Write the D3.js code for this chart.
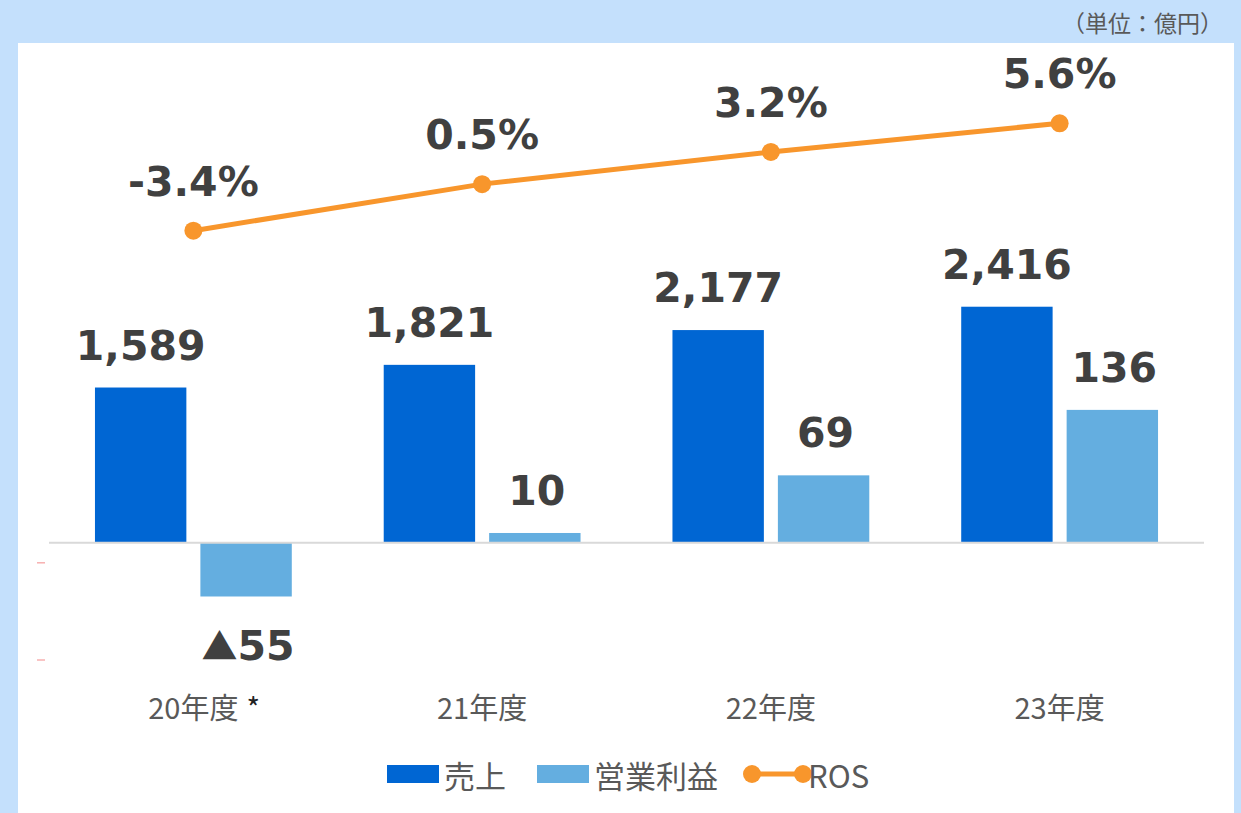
<!DOCTYPE html>
<html>
<head>
<meta charset="utf-8">
<script src="https://cdn.jsdelivr.net/npm/d3@7"></script>
<style>
  html, body { margin: 0; padding: 0; background: #c4e0fc; }
  svg { display: block; }
</style>
</head>
<body>
<script>
// chart data
const categories = ["20年度", "21年度", "22年度", "23年度"];
const categoryNotes = ["*", "", "", ""];
const seriesNames = ["売上", "営業利益"];
const sales = [1589, 1821, 2177, 2416];
const profit = [-55, 10, 69, 136];
const ros = [-3.4, 0.5, 3.2, 5.6];
const unitLabel = "（単位：億円）";

const width = 1241;
const height = 813;

const colors = {
  sales: "#0066d3",
  profit: "#64aee0",
  ros: "#f8962c",
  label: "#404040",
  text: "#595959",
};

const svg = d3
  .select("body")
  .append("svg")
  .attr("width", width)
  .attr("height", height);

// blue frame + white panel
svg.append("rect").attr("width", width).attr("height", height).attr("fill", "#c4e0fc");
svg
  .append("rect")
  .attr("x", 18)
  .attr("y", 43)
  .attr("width", 1216)
  .attr("height", height - 43)
  .attr("fill", "#ffffff");

svg
  .append("text")
  .attr("x", 1223)
  .attr("y", 32)
  .attr("text-anchor", "end")
  .attr("font-family", "'Noto Sans CJK JP', sans-serif")
  .attr("font-size", 23)
  .attr("fill", colors.text)
  .text(unitLabel);

const plot = { left: 49, right: 1204, top: 250, bottom: 660 };

const xScale = d3
  .scaleBand()
  .domain(categories)
  .range([plot.left, plot.right])
  .padding(0);

const xSub = d3
  .scaleBand()
  .domain(seriesNames)
  .range([0, xScale.bandwidth()])
  .paddingInner(0.133)
  .paddingOuter(0.436);

// sales axis (left), profit axis (secondary, 10x)
const ySales = d3.scaleLinear().domain([-1200, 3000]).range([plot.bottom, plot.bottom - 4200 * 0.0977]);
const yProfit = d3.scaleLinear().domain([-120, 300]).range(ySales.range());
const yRos = d3.scaleLinear().domain([-10, 10]).range([309.4, 70.8]);

const labelFont = "'DejaVu Sans', Verdana, sans-serif";

// faint red marks at left edge (as in the source)
svg
  .selectAll("line.redmark")
  .data([-205, -1200])
  .join("line")
  .attr("class", "redmark")
  .attr("x1", 37)
  .attr("x2", 45)
  .attr("y1", (d) => ySales(d))
  .attr("y2", (d) => ySales(d))
  .attr("stroke", "#f7b0b0")
  .attr("stroke-width", 1.5);

const groups = svg
  .selectAll("g.cat")
  .data(categories)
  .join("g")
  .attr("class", "cat")
  .attr("transform", (d) => `translate(${xScale(d)},0)`);

// sales bars
groups
  .append("rect")
  .attr("x", xSub("売上"))
  .attr("width", xSub.bandwidth())
  .attr("y", (d, i) => ySales(sales[i]))
  .attr("height", (d, i) => ySales(0) - ySales(sales[i]))
  .attr("fill", colors.sales);

// profit bars
groups
  .append("rect")
  .attr("x", xSub("営業利益"))
  .attr("width", xSub.bandwidth())
  .attr("y", (d, i) => yProfit(Math.max(0, profit[i])))
  .attr("height", (d, i) => Math.abs(yProfit(0) - yProfit(profit[i])))
  .attr("fill", colors.profit);

// zero line
svg
  .append("line")
  .attr("x1", plot.left)
  .attr("x2", plot.right)
  .attr("y1", ySales(0))
  .attr("y2", ySales(0))
  .attr("stroke", "#d9d9d9")
  .attr("stroke-width", 2);

// bar value labels
const fmt = d3.format(",");
groups
  .append("text")
  .attr("x", xSub("売上") + xSub.bandwidth() / 2)
  .attr("y", (d, i) => ySales(sales[i]) - 28)
  .attr("text-anchor", "middle")
  .attr("font-family", labelFont)
  .attr("font-weight", "bold")
  .attr("font-size", 41)
  .attr("fill", colors.label)
  .text((d, i) => fmt(sales[i]));

const profitLabels = groups
  .append("text")
  .attr("x", xSub("営業利益") + xSub.bandwidth() / 2 + 2)
  .attr("y", (d, i) => (profit[i] >= 0 ? yProfit(profit[i]) - 28 : yProfit(profit[i]) + 64))
  .attr("text-anchor", "middle")
  .attr("font-family", labelFont)
  .attr("font-weight", "bold")
  .attr("font-size", 41)
  .attr("fill", colors.label);

profitLabels.each(function (d, i) {
  const t = d3.select(this);
  if (profit[i] < 0) {
    t.append("tspan")
      .attr("font-family", "'Noto Sans CJK JP', sans-serif")
      .attr("font-size", 36)
      .attr("font-weight", "normal")
      .text("▲");
    t.append("tspan").text(fmt(-profit[i]));
  } else {
    t.text(fmt(profit[i]));
  }
});

// ROS line
const rosLine = d3
  .line()
  .x((d, i) => xScale(categories[i]) + xScale.bandwidth() / 2)
  .y((d) => yRos(d));

svg
  .append("path")
  .datum(ros)
  .attr("d", rosLine)
  .attr("fill", "none")
  .attr("stroke", colors.ros)
  .attr("stroke-width", 5);

svg
  .selectAll("circle.ros")
  .data(ros)
  .join("circle")
  .attr("class", "ros")
  .attr("cx", (d, i) => xScale(categories[i]) + xScale.bandwidth() / 2)
  .attr("cy", (d) => yRos(d))
  .attr("r", 9)
  .attr("fill", colors.ros);

svg
  .selectAll("text.ros")
  .data(ros)
  .join("text")
  .attr("class", "ros")
  .attr("x", (d, i) => xScale(categories[i]) + xScale.bandwidth() / 2)
  .attr("y", (d) => yRos(d) - 35)
  .attr("text-anchor", "middle")
  .attr("font-family", labelFont)
  .attr("font-weight", "bold")
  .attr("font-size", 41)
  .attr("fill", colors.label)
  .text((d) => d.toFixed(1) + "%");

// category labels
const catFont = "'Noto Sans CJK JP', sans-serif";
const catLabels = groups
  .append("text")
  .attr("x", xScale.bandwidth() / 2)
  .attr("y", 719)
  .attr("text-anchor", "middle")
  .attr("font-family", catFont)
  .attr("font-size", 29)
  .attr("fill", colors.text)
  .text((d) => d);

catLabels.each(function (d, i) {
  if (!categoryNotes[i]) return;
  const w = this.getComputedTextLength();
  d3.select(this.parentNode)
    .append("text")
    .attr("x", xScale.bandwidth() / 2 + w / 2 + 8)
    .attr("y", 719)
    .attr("font-family", catFont)
    .attr("font-size", 29)
    .attr("fill", "#222")
    .text(categoryNotes[i]);
});

// legend
const legend = svg.append("g").attr("font-family", catFont).attr("font-size", 31).attr("fill", colors.text);
const legendY = 774;

legend.append("rect").attr("x", 387).attr("y", 765).attr("width", 52).attr("height", 18).attr("fill", colors.sales);
legend.append("text").attr("x", 444).attr("y", legendY).attr("dominant-baseline", "central").text(seriesNames[0]);

legend.append("rect").attr("x", 537).attr("y", 765).attr("width", 52).attr("height", 18).attr("fill", colors.profit);
legend.append("text").attr("x", 594).attr("y", legendY).attr("dominant-baseline", "central").text(seriesNames[1]);

legend
  .append("line")
  .attr("x1", 752)
  .attr("x2", 803)
  .attr("y1", legendY)
  .attr("y2", legendY)
  .attr("stroke", colors.ros)
  .attr("stroke-width", 5);
legend.selectAll("circle").data([752, 803]).join("circle").attr("cx", (d) => d).attr("cy", legendY).attr("r", 9).attr("fill", colors.ros);
legend.append("text").attr("x", 808).attr("y", legendY).attr("dominant-baseline", "central").text("ROS");
</script>
</body>
</html>
